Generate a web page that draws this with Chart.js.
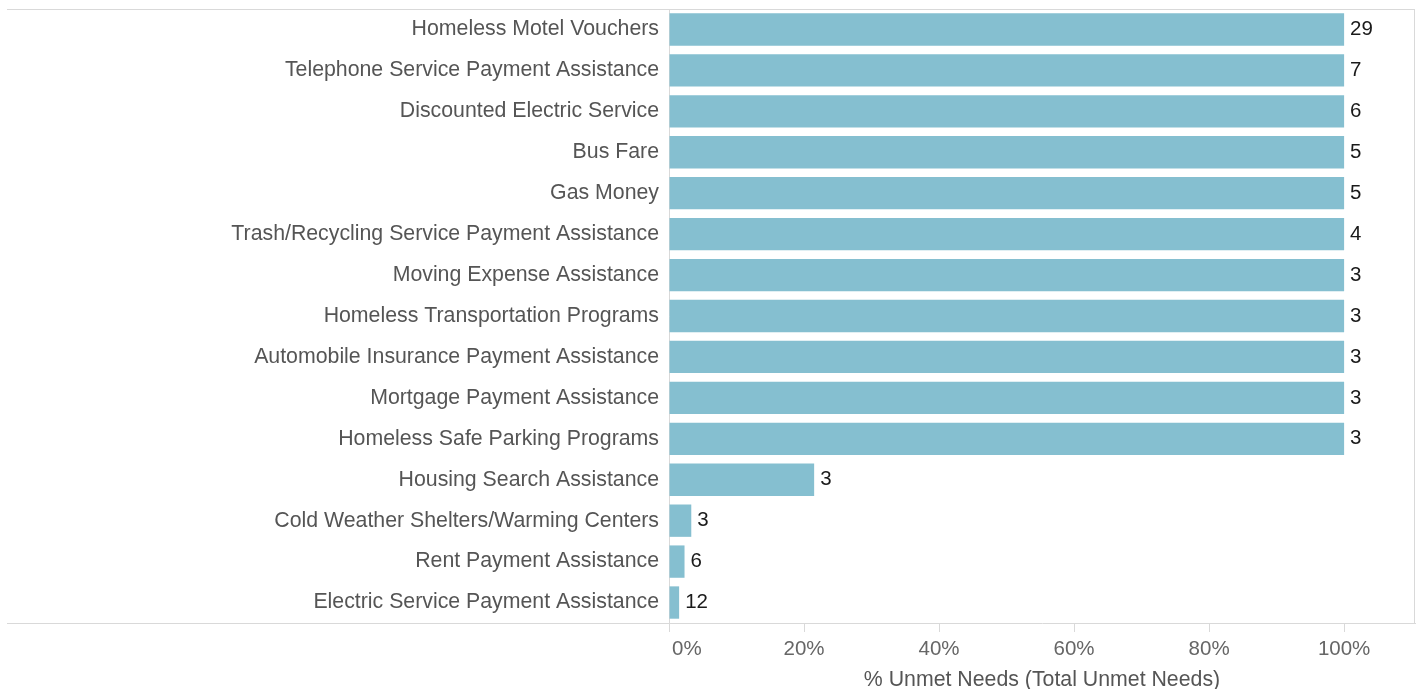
<!DOCTYPE html>
<html>
<head>
<meta charset="utf-8">
<script src="https://cdn.jsdelivr.net/npm/chart.js@4/dist/chart.umd.min.js"></script>
<style>
html,body{margin:0;padding:0;background:#fff;}
#wrap{width:1425px;height:689px;position:relative;}
</style>
</head>
<body>
<div id="wrap"><canvas id="c" width="1425" height="689"></canvas></div>
<script>
const categories = [
  "Homeless Motel Vouchers",
  "Telephone Service Payment Assistance",
  "Discounted Electric Service",
  "Bus Fare",
  "Gas Money",
  "Trash/Recycling Service Payment Assistance",
  "Moving Expense Assistance",
  "Homeless Transportation Programs",
  "Automobile Insurance Payment Assistance",
  "Mortgage Payment Assistance",
  "Homeless Safe Parking Programs",
  "Housing Search Assistance",
  "Cold Weather Shelters/Warming Centers",
  "Rent Payment Assistance",
  "Electric Service Payment Assistance"
];
const pctUnmet = [100,100,100,100,100,100,100,100,100,100,100,21.5,3.3,2.3,1.5];
const totalUnmet = [29,7,6,5,5,4,3,3,3,3,3,3,3,6,12];
const xTicks = [0,20,40,60,80,100];
const xTickLabels = ["0%","20%","40%","60%","80%","100%"];
const axisTitle = "% Unmet Needs (Total Unmet Needs)";

const FONT = "'Liberation Sans', Arial, Helvetica, sans-serif";
const GRID = "#d9d9d9";

const decor = {
  id: 'decor',
  afterDraw(chart) {
    const ctx = chart.ctx;
    const a = chart.chartArea;
    ctx.save();
    ctx.strokeStyle = GRID;
    ctx.lineWidth = 1;
    ctx.beginPath();
    ctx.moveTo(7, a.top + 0.5); ctx.lineTo(a.right, a.top + 0.5);
    ctx.moveTo(a.right - 0.5, a.top); ctx.lineTo(a.right - 0.5, a.bottom);
    ctx.moveTo(7, a.bottom + 0.5); ctx.lineTo(a.left, a.bottom + 0.5);
    ctx.stroke();
    // data labels
    const meta = chart.getDatasetMeta(0);
    ctx.font = "20.5px " + FONT;
    ctx.fillStyle = "#1a1a1a";
    ctx.textAlign = "left";
    ctx.textBaseline = "middle";
    meta.data.forEach((bar, i) => {
      ctx.fillText(String(totalUnmet[i]), bar.x + 6, bar.y);
    });
    // x tick labels
    const xs = chart.scales.x;
    ctx.font = "20.5px " + FONT;
    ctx.fillStyle = "#666";
    xTicks.forEach((v, i) => {
      const px = xs.getPixelForValue(v);
      if (i === 0) { ctx.textAlign = "left"; ctx.fillText(xTickLabels[i], px + 3, a.bottom + 26); }
      else { ctx.textAlign = "center"; ctx.fillText(xTickLabels[i], px, a.bottom + 26); }
    });
    ctx.font = "21.3px " + FONT;
    ctx.textAlign = "center";
    ctx.fillStyle = "#555";
    ctx.fillText(axisTitle, (a.left + a.right) / 2, a.bottom + 57);
    ctx.restore();
  }
};

new Chart(document.getElementById('c'), {
  type: 'bar',
  data: {
    labels: categories,
    datasets: [{
      data: pctUnmet,
      backgroundColor: '#85bfd0',
      borderWidth: 0,
      categoryPercentage: 1,
      barPercentage: 0.79
    }]
  },
  options: {
    indexAxis: 'y',
    responsive: false,
    animation: false,
    layout: { padding: { top: 9, right: 10, left: 0, bottom: 0 } },
    plugins: { legend: { display: false }, tooltip: { enabled: false } },
    scales: {
      x: {
        type: 'linear',
        min: 0,
        max: 110.5,
        afterBuildTicks: (s) => { s.ticks = xTicks.map(v => ({ value: v })); },
        afterFit: (s) => { s.height = 66; s.paddingLeft = 0; s.paddingRight = 0; },
        ticks: { display: false },
        grid: { display: true, drawOnChartArea: false, drawTicks: true, tickLength: 9, color: GRID },
        border: { display: true, color: GRID }
      },
      y: {
        afterFit: (s) => { s.width = 669; s.paddingTop = 0; s.paddingBottom = 0; },
        ticks: { padding: 10, color: '#555', font: { family: FONT, size: 21.3 } },
        grid: { display: false, drawTicks: false },
        border: { display: true, color: GRID }
      }
    }
  },
  plugins: [decor]
});
</script>
</body>
</html>
